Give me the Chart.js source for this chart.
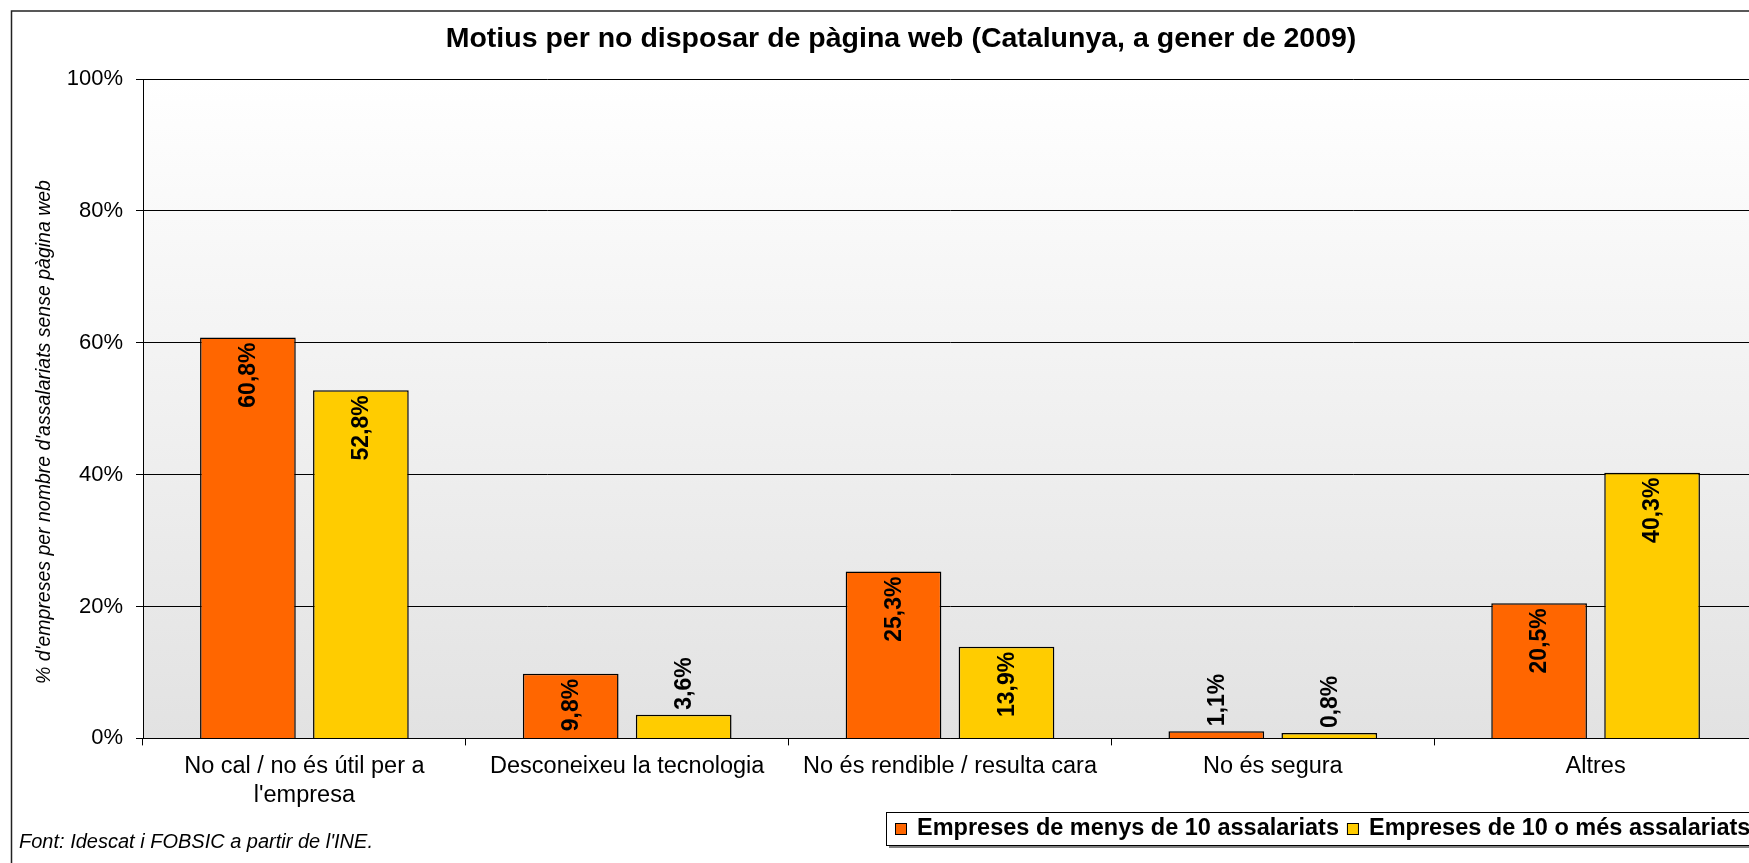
<!DOCTYPE html>
<html><head><meta charset="utf-8">
<script src="https://cdn.jsdelivr.net/npm/chart.js@4/dist/chart.umd.min.js"></script>
<style>
html,body{margin:0;padding:0;overflow:hidden;background:#fff;width:1749px;height:863px}
canvas{position:absolute;left:0;top:0}
</style></head>
<body><canvas id="c" width="1800" height="863"></canvas>
<script>
const categories = [["No cal / no és útil per a","l'empresa"],"Desconeixeu la tecnologia","No és rendible / resulta cara","No és segura","Altres"];
const seriesNames = ["Empreses de menys de 10 assalariats","Empreses de 10 o més assalariats"];
const smallFirms = [60.8, 9.8, 25.3, 1.1, 20.5];
const largeFirms = [52.8, 3.6, 13.9, 0.8, 40.3];
const yTickValues = [0, 20, 40, 60, 80, 100];
const chartTitle = "Motius per no disposar de pàgina web (Catalunya, a gener de 2009)";
const yAxisTitle = "% d'empreses per nombre d'assalariats sense pàgina web";
const sourceNote = "Font: Idescat i FOBSIC a partir de l'INE.";
const seriesColors = ["#FF6600", "#FFCC00"];

const FAM = '"Liberation Sans", Arial, sans-serif';
const fmt = v => v.toFixed(1).replace('.', ',') + '%';

const decor = {
  id: 'decor',
  beforeDraw(chart) {
    const {ctx, chartArea: a} = chart;
    ctx.save();
    const g = ctx.createLinearGradient(0, a.top, 0, a.bottom);
    g.addColorStop(0, '#ffffff');
    g.addColorStop(1, '#e2e2e2');
    ctx.fillStyle = g;
    ctx.fillRect(a.left, a.top, a.right - a.left, a.bottom - a.top);
    ctx.restore();
  },
  afterDraw(chart) {
    const {ctx} = chart;
    ctx.save();
    // frame
    ctx.strokeStyle = '#222';
    ctx.lineWidth = 1.5;
    ctx.strokeRect(11.5, 11, 1900, 1000);
    // title
    ctx.fillStyle = '#000';
    ctx.font = 'bold 28.5px ' + FAM;
    ctx.textAlign = 'center';
    ctx.textBaseline = 'middle';
    ctx.fillText(chartTitle, 901, 39);
    // y axis title
    ctx.save();
    ctx.translate(45, 432);
    ctx.rotate(-Math.PI / 2);
    ctx.font = 'italic 19.5px ' + FAM;
    ctx.fillText(yAxisTitle, 0, 0);
    ctx.restore();
    // source
    ctx.font = 'italic 20px ' + FAM;
    ctx.textAlign = 'left';
    ctx.fillText(sourceNote, 19, 842);
    // legend
    const lx = 886, ly = 812, lh = 33, lw = 1000;
    ctx.fillStyle = '#808080';
    ctx.fillRect(lx + 3, ly + 3, lw, lh);
    ctx.fillStyle = '#fff';
    ctx.fillRect(lx, ly, lw, lh);
    ctx.strokeStyle = '#000';
    ctx.lineWidth = 1;
    ctx.strokeRect(lx + 0.5, ly + 0.5, lw, lh);
    ctx.font = 'bold 23.5px ' + FAM;
    ctx.textBaseline = 'middle';
    const cy = ly + lh / 2 + 0.5;
    let x = 895;
    seriesNames.forEach((name, i) => {
      ctx.fillStyle = seriesColors[i];
      ctx.fillRect(x, cy - 6, 12, 12);
      ctx.strokeStyle = '#000';
      ctx.strokeRect(x + 0.5, cy - 5.5, 11, 11);
      ctx.fillStyle = '#000';
      ctx.fillText(name, x + 22, cy);
      x = x + 22 + ctx.measureText(name).width + 8;
    });
    ctx.restore();
  },
  afterDatasetsDraw(chart) {
    const {ctx} = chart;
    ctx.save();
    ctx.font = 'bold 23px ' + FAM;
    ctx.fillStyle = '#000';
    ctx.textAlign = 'center';
    ctx.textBaseline = 'middle';
    chart.data.datasets.forEach((ds, i) => {
      chart.getDatasetMeta(i).data.forEach((bar, j) => {
        const v = ds.data[j];
        const t = fmt(v);
        const w = ctx.measureText(t).width;
        const pad = 5;
        const h = bar.base - bar.y;
        const cyy = (h >= w + 2 * pad) ? bar.y + pad + w / 2 : bar.y - pad - w / 2;
        ctx.save();
        ctx.translate(bar.x + 1, cyy);
        ctx.rotate(-Math.PI / 2);
        ctx.fillText(t, 0, 0);
        ctx.restore();
      });
    });
    ctx.restore();
  }
};

new Chart(document.getElementById('c'), {
  type: 'bar',
  data: {
    labels: categories,
    datasets: [
      {label: seriesNames[0], data: smallFirms, backgroundColor: seriesColors[0], borderColor: '#000', borderWidth: 1.5},
      {label: seriesNames[1], data: largeFirms, backgroundColor: seriesColors[1], borderColor: '#000', borderWidth: 1.5}
    ]
  },
  options: {
    responsive: false,
    animation: false,
    layout: {padding: {left: 0, top: 79, right: 43, bottom: 0}},
    datasets: {bar: {categoryPercentage: 0.70, barPercentage: 0.847}},
    plugins: {legend: {display: false}, title: {display: false}, tooltip: {enabled: false}},
    scales: {
      x: {
        grid: {display: true, drawOnChartArea: false, drawTicks: true, tickLength: 7, color: '#000', offset: true},
        border: {display: true, color: '#000', width: 1},
        ticks: {color: '#000', font: {size: 23.5, family: FAM, lineHeight: 1.234}, padding: 6.5, maxRotation: 0, autoSkip: false},
        afterFit: s => { s.height = 124.6; }
      },
      y: {
        min: 0, max: 100,
        afterBuildTicks: s => { s.ticks = yTickValues.map(v => ({value: v})); },
        grid: {color: '#000', lineWidth: 1, tickLength: 7, drawTicks: true},
        border: {display: true, color: '#000', width: 1},
        ticks: {color: '#000', font: {size: 22, family: FAM}, padding: 13, callback: v => v + '%'},
        afterFit: s => { s.width = 143; }
      }
    }
  },
  plugins: [decor]
});
</script>
</body></html>
